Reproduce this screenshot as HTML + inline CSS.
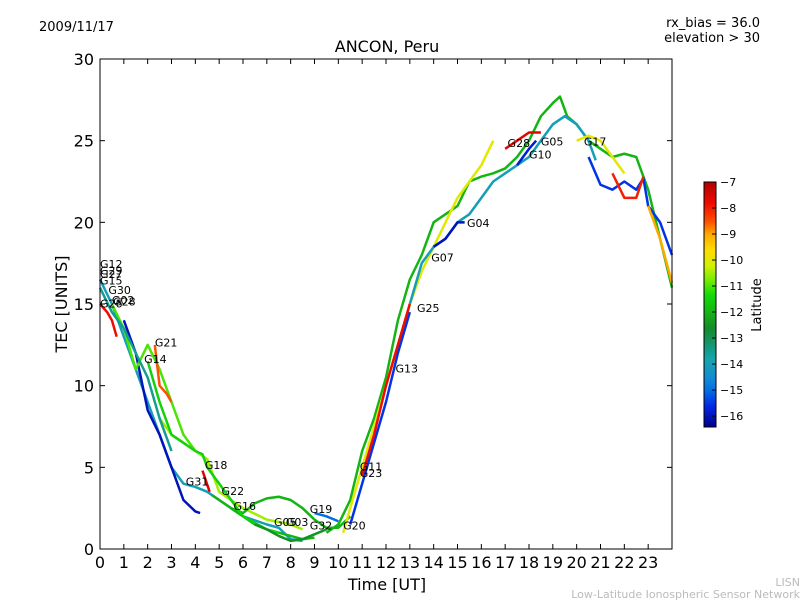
<!DOCTYPE html>
<html><head><meta charset="utf-8"><style>
body{margin:0;background:#fff;}
svg text{font-family:"DejaVu Sans","Liberation Sans",sans-serif;}
</style></head><body>
<svg id="chart" width="800" height="600" xmlns="http://www.w3.org/2000/svg">
<rect width="800" height="600" fill="#fff"/>
<text x="39" y="31" font-size="13">2009/11/17</text>
<text x="387" y="52" font-size="16" text-anchor="middle">ANCON, Peru</text>
<text x="760" y="27" font-size="13" text-anchor="end">rx_bias = 36.0</text>
<text x="760" y="42" font-size="13" text-anchor="end">elevation &gt; 30</text>
<text x="800" y="586" font-size="11" fill="#bbb" text-anchor="end">LISN</text>
<text x="800" y="598" font-size="11" fill="#bbb" text-anchor="end">Low-Latitude Ionospheric Sensor Network</text>
<g id="plot"></g>
<g id="axes"></g>
<g id="cbar"></g>
</svg>
<script>
const xTicks=[0,1,2,3,4,5,6,7,8,9,10,11,12,13,14,15,16,17,18,19,20,21,22,23];
const yTicks=[0,5,10,15,20,25,30];
const cbTicks=[-7,-8,-9,-10,-11,-12,-13,-14,-15,-16];
const trackLats=[-14,-16,-10.5,-7.5,-12,-12,-15,-12,-10,-15.5,-7.8,-14,-16,-7.6,-15.8,-10,-15.5,-8,-9,-11,-7.8,-8.5,-11.5,-13.5,-12.5];
const trackTimes=[
[0,0.5,1,1.5,2,2.5,3,3.5,4,4.5,5,5.5,6,7,7.5,8,8.5],
[1,1.5,2,2.5,3,3.5,4,4.2],
[2.5,3,3.5,4,4.5,5,5.5,6,7,8,8.5],
[4.3,4.6],
[4.7,5.5,6,6.5,7,8,8.5,9],
[5.5,6,6.5,7,7.5,8,8.5,9,9.5,10,10.5],
[9,9.5,10],
[9.5,10,10.5,11,11.5,12,12.5,13,13.5,14,14.5,15,15.5,16,16.5,17,17.5,18,18.5,19,19.3,19.6,20,20.5,21,21.5,22,22.5,23,23.5,24],
[10.2,11,12,13,13.5,14,14.5,15,15.5,16,16.5],
[10.5,11,11.5,12,12.5,13],
[11,11.5,12,12.5,13],
[13,13.5,14,14.5,15,15.5,16,16.5,17,17.5,18,18.5,19,19.5,20,20.5,20.8],
[14,14.5,15,15.3],
[17,17.5,18,18.5],
[17.5,18,18.3],
[20,20.5,21,21.5,22],
[20.5,21,21.5,22,22.5,22.8,23,23.5,24],
[21.5,22,22.5,22.8],
[23,23.5,24],
[0.5,1,1.3,1.5,2,2.5,3,3.5,4],
[0,0.3,0.5,0.7],
[2.3,2.5,2.8,3],
[2,2.5,3,3.5,4,4.3,4.5,5,5.5,6,7,7.5],
[0,0.5,1,1.5,2,2.5,3],
[6.5,7,7.5,8,8.5,9,9.5]
];
const trackTec=[
[16.5,15,13,11,9,7,5,4,3.8,3.5,3,2.5,2,1.5,1.3,0.6,0.5],
[14,12,8.5,7,5,3,2.3,2.2],
[8,7,6.5,6,5.5,3.5,3,2.5,1.8,1.5,1.2],
[4.8,3.5],
[3.3,2.5,2,1.5,1.2,0.8,0.6,0.7],
[2.5,2.2,2.8,3.1,3.2,3,2.5,1.8,1.3,1.3,2],
[2.2,2,1.7],
[1,1.5,3,6,8,10.5,14,16.5,18,20,20.5,21,22.5,22.8,23,23.3,24,25,26.5,27.3,27.7,26.5,26,25,24.5,24,24.2,24,22,19,16],
[1,5,10,15,17,18.5,20,21.5,22.5,23.5,25],
[1.5,4,6.5,9,12,14.5],
[4.5,7,10,12.5,15],
[15,17.5,18.5,19,20,20.5,21.5,22.5,23,23.5,24,25,26,26.5,26,25,23.8],
[18.5,19,20,20],
[24.5,25,25.5,25.5],
[23.5,24.5,25],
[25,25.3,25,24,23],
[24,22.3,22,22.5,22,22.7,21,20,18],
[23,21.5,21.5,22.8],
[21,19,16.3],
[15,13.5,12,11,12.5,11,9,7,6],
[15,14.5,14,13],
[12.5,10,9.5,9],
[11.5,9,7,6.5,6,5.8,5,4,3,2,1.2,1],
[16,14.5,13.5,12,10.5,8,6],
[1.5,1.2,0.8,0.5,0.6,0.9,1.2]
];
const labelNames=["G12","G29","G27","G15","G30","G26","G02","G28","G21","G14","G18","G31","G22","G16","G05","G03","G19","G32","G20","G11","G23","G13","G25","G07","G04","G28","G05","G10","G17"];
const labelT=[0,0,0,0,0.35,0,0.5,0.55,2.3,1.85,4.4,3.6,5.1,5.6,7.3,7.8,8.8,8.8,10.2,10.9,10.9,12.4,13.3,13.9,15.4,17.1,18.5,18.0,20.3];
const labelV=[17.2,16.8,16.6,16.2,15.6,14.8,15.0,14.9,12.4,11.4,4.9,3.9,3.3,2.4,1.4,1.4,2.2,1.2,1.2,4.8,4.4,10.8,14.5,17.6,19.7,24.6,24.7,23.9,24.7];
const NS="http://www.w3.org/2000/svg";
const X0=100,X1=672,Y0=549,Y1=59;
function xs(t){return X0+t*(X1-X0)/24;}
function ys(v){return Y0-v*(Y0-Y1)/30;}
const stops=[[-7,[180,0,0]],[-7.8,[240,10,0]],[-8.5,[255,80,0]],[-9,[255,170,0]],[-9.6,[255,220,0]],[-10.2,[210,240,0]],[-10.8,[110,235,0]],[-11.3,[20,220,10]],[-12,[20,180,20]],[-12.6,[20,140,40]],[-13.2,[20,150,110]],[-13.8,[20,165,175]],[-14.5,[20,140,210]],[-15,[0,110,230]],[-15.6,[0,40,230]],[-16.4,[0,0,140]]];
function cmap(l){
 for(let i=0;i<stops.length-1;i++){const a=stops[i],b=stops[i+1];
  if(l<=a[0]&&l>=b[0]){const f=(a[0]-l)/(a[0]-b[0]);const c=a[1].map((v,k)=>Math.round(v+(b[1][k]-v)*f));return `rgb(${c})`;}}
 return l>-7?'rgb(180,0,0)':'rgb(0,0,140)';
}
const plot=document.getElementById('plot');
trackTimes.forEach((ts,i)=>{
 const p=document.createElementNS(NS,'polyline');
 p.setAttribute('points',ts.map((t,j)=>xs(t)+','+ys(trackTec[i][j])).join(' '));
 p.setAttribute('fill','none');p.setAttribute('stroke',cmap(trackLats[i]));p.setAttribute('stroke-width','2.5');p.setAttribute('stroke-linejoin','round');
 
 
 plot.appendChild(p);
});
labelNames.forEach((n,i)=>{
 const t=document.createElementNS(NS,'text');
 t.setAttribute('x',xs(labelT[i]));t.setAttribute('y',ys(labelV[i]));t.setAttribute('font-size','11');t.textContent=n;
 
 
 plot.appendChild(t);
});
const ax=document.getElementById('axes');
let h=`<rect x="${X0}" y="${Y1}" width="${X1-X0}" height="${Y0-Y1}" fill="none" stroke="#000" stroke-width="1"/>`;
xTicks.forEach(t=>{const x=xs(t);h+=`<line x1="${x}" y1="${Y0}" x2="${x}" y2="${Y0-5}" stroke="#000"/><line x1="${x}" y1="${Y1}" x2="${x}" y2="${Y1+5}" stroke="#000"/><text x="${x}" y="568" font-size="16" text-anchor="middle">${t}</text>`;});
yTicks.forEach(v=>{const y=ys(v);h+=`<line x1="${X0}" y1="${y}" x2="${X0+5}" y2="${y}" stroke="#000"/><line x1="${X1}" y1="${y}" x2="${X1-5}" y2="${y}" stroke="#000"/><text x="${X0-6}" y="${y+6}" font-size="16" text-anchor="end">${v}</text>`;});
h+=`<text x="387" y="590" font-size="16" text-anchor="middle">Time [UT]</text>`;
h+=`<text transform="translate(67,304) rotate(-90)" font-size="16" text-anchor="middle">TEC [UNITS]</text>`;
ax.innerHTML=h;
const cb=document.getElementById('cbar');
const CT=182,CB=427,LMAX=-7,LMIN=-16.42;
function cy(l){return CT+(LMAX-l)*(CB-CT)/(LMAX-LMIN);}
let g='';
for(let y=CT;y<CB;y++){const l=LMAX-(y-CT)/(CB-CT)*(LMAX-LMIN);g+=`<rect x="704" y="${y}" width="12" height="1.2" fill="${cmap(l)}"/>`;}
g+=`<rect x="704" y="${CT}" width="12" height="${CB-CT}" fill="none" stroke="#000"/>`;
cbTicks.forEach(l=>{const y=cy(l);g+=`<line x1="712" y1="${y}" x2="716" y2="${y}" stroke="#000"/><text x="720" y="${y+4}" font-size="11">\u2212${-l}</text>`;});
g+=`<text transform="translate(761,305) rotate(-90)" font-size="13" text-anchor="middle">Latitude</text>`;
cb.innerHTML=g;
</script>
</body></html>
